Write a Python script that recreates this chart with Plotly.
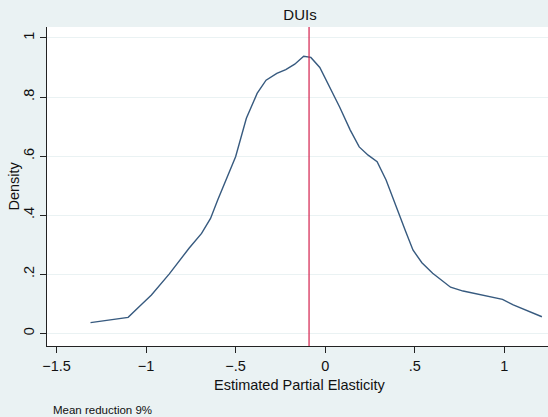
import plotly.graph_objects as go

# Kernel density of estimated partial elasticities (DUIs)
elasticity = [-1.31, -1.20, -1.10, -1.03, -0.97, -0.87, -0.76, -0.69, -0.64, -0.60,
              -0.55, -0.50, -0.44, -0.38, -0.33, -0.27, -0.22, -0.17, -0.12, -0.08,
              -0.03, 0.04, 0.08, 0.14, 0.19, 0.24, 0.29, 0.34, 0.40, 0.45,
              0.49, 0.54, 0.60, 0.70, 0.77, 0.85, 0.92, 0.99, 1.05, 1.13, 1.21]
density = [0.036, 0.045, 0.054, 0.095, 0.130, 0.201, 0.288, 0.338, 0.389, 0.451,
           0.525, 0.598, 0.728, 0.812, 0.857, 0.880, 0.893, 0.911, 0.938, 0.934,
           0.900, 0.818, 0.767, 0.688, 0.631, 0.603, 0.581, 0.519, 0.420, 0.344,
           0.282, 0.239, 0.203, 0.156, 0.143, 0.133, 0.122, 0.115, 0.096, 0.076, 0.056]
mean_elasticity = -0.09

x_ticks = [-1.5, -1, -0.5, 0, 0.5, 1]
x_tick_labels = ["−1.5", "−1", "−.5", "0", ".5", "1"]
y_ticks = [0, 0.2, 0.4, 0.6, 0.8, 1]
y_tick_labels = ["0", ".2", ".4", ".6", ".8", "1"]

title_text = "DUIs"
x_title = "Estimated Partial Elasticity"
y_title = "Density"
note_text = "Mean reduction 9%"

FONT = "Liberation Sans, Arial, sans-serif"
BG = "#eaf2f3"

fig = go.Figure()
fig.add_trace(go.Scatter(x=elasticity, y=density, mode="lines",
                         line=dict(color="#375a7f", width=1.4),
                         showlegend=False, hoverinfo="skip"))
fig.add_vline(x=mean_elasticity, line=dict(color="#d4204d", width=1.2))

fig.update_layout(
    width=548, height=417,
    margin=dict(l=47, r=0, t=27, b=71),
    paper_bgcolor=BG, plot_bgcolor="white",
    font=dict(family=FONT, size=14, color="#111"),
    title=dict(text=title_text, x=0.505, xref="paper", xanchor="center",
               y=1 - 14.7 / 417, yref="container", yanchor="middle",
               font=dict(family=FONT, size=15, color="#111")),
    xaxis=dict(range=[-1.553, 1.244], tickvals=x_ticks, ticktext=x_tick_labels,
               showgrid=False, zeroline=False, showline=True, linecolor="#222",
               linewidth=1.2, ticks="outside", ticklen=6, tickcolor="#222",
               tickwidth=1, tickfont=dict(size=14.5, color="#111")),
    yaxis=dict(range=[-0.043, 1.037], tickvals=y_ticks, ticktext=y_tick_labels,
               showgrid=True, gridcolor=BG, gridwidth=1, zeroline=False,
               showline=True, linecolor="#222", linewidth=1.2, ticks="outside",
               ticklen=6, tickcolor="#222", tickwidth=1, tickangle=-90,
               tickfont=dict(size=14.5, color="#111")),
    annotations=[
        dict(text=x_title, xref="paper", yref="paper", x=0.504, y=(346 - 384.8) / 319,
             xanchor="center", yanchor="middle", showarrow=False,
             font=dict(family=FONT, size=14.5, color="#111")),
        dict(text=y_title, xref="paper", yref="paper", x=(13 - 47) / 501, y=0.5,
             xanchor="center", yanchor="middle", textangle=-90, showarrow=False,
             font=dict(family=FONT, size=14.5, color="#111")),
        dict(text=note_text, xref="paper", yref="paper", x=(50.7 - 47) / 501,
             y=(346 - 410) / 319, xanchor="left", yanchor="middle", showarrow=False,
             font=dict(family=FONT, size=11.5, color="#111")),
    ],
)

fig.write_html("out.html", config={"displayModeBar": False},
               post_script="document.body.style.margin='0';document.body.style.overflow='hidden';")
